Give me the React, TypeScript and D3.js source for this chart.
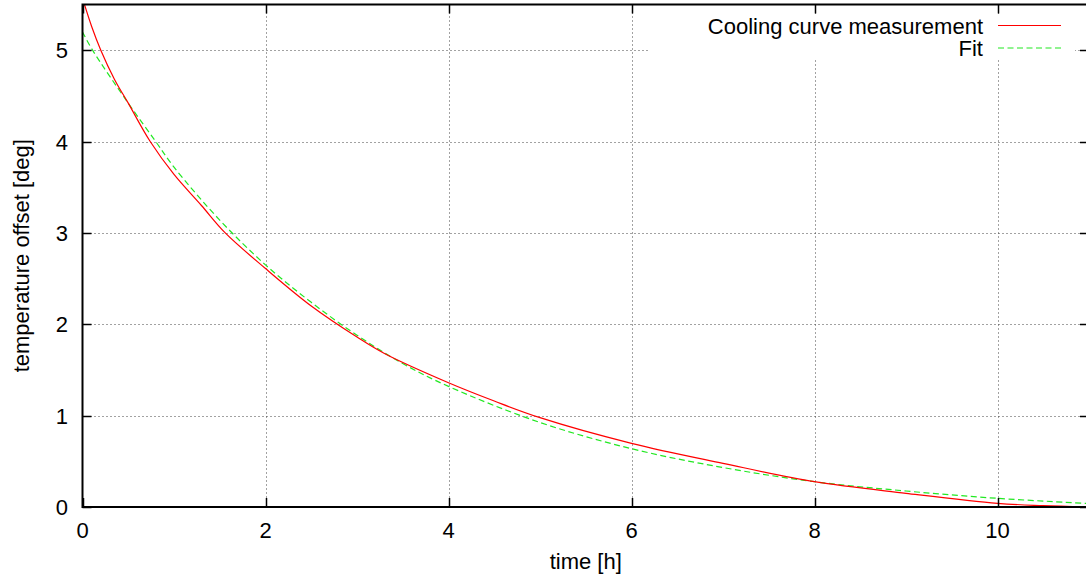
import React, { useEffect, useRef } from "react";
import * as d3 from "d3";

// cooling curve
const measTime = [0, 0.1, 0.2, 0.35, 0.5, 0.74, 1.0, 1.3, 1.56, 2.0, 2.5, 3.0, 3.3, 4.0, 4.5, 5.0, 6.0, 7.0, 8.0, 9.0, 10.0, 10.5, 11.0];
const measTemp = [5.57, 5.26, 5.0, 4.68, 4.42, 4.0, 3.64, 3.3, 3.0, 2.61, 2.2, 1.86, 1.68, 1.36, 1.16, 0.978, 0.697, 0.478, 0.277, 0.15, 0.04, 0.015, 0.0];

const fitTime = [0, 0.11, 0.5, 0.8, 1.0, 1.5, 2.0, 2.5, 3.0, 3.5, 4.0, 5.0, 6.0, 7.0, 8.0, 9.0, 10.0, 11.0];
const fitTemp = [5.2, 5.0, 4.42, 4.0, 3.72, 3.14, 2.65, 2.24, 1.88, 1.57, 1.32, 0.925, 0.638, 0.432, 0.277, 0.175, 0.095, 0.038];

const xTicks = [0, 2, 4, 6, 8, 10];
const yTicks = [0, 1, 2, 3, 4, 5];
const legendLabels = ["Cooling curve measurement", "Fit"];

const W = 1086;
const H = 581;
const FONT = "'Liberation Sans', Arial, sans-serif";

const App = () => {
  const ref = useRef<SVGSVGElement>(null);

  useEffect(() => {
    const svg = d3.select(ref.current);
    svg.selectAll("*").remove();

    const left = 82.5;
    const right = 1089;
    const top = 4.5;
    const bottom = 507;

    const x = d3.scaleLinear().domain([0, 11]).range([left, right]);
    const y = d3.scaleLinear().domain([0, 5.5]).range([bottom, top]);

    // grid
    const grid = svg.append("g").attr("stroke", "#444").attr("stroke-width", 1).attr("stroke-dasharray", "1,3");
    grid
      .selectAll(".gx")
      .data(xTicks.filter((d) => d > 0))
      .enter()
      .append("line")
      .attr("x1", (d) => Math.round(x(d)) + 0.5)
      .attr("x2", (d) => Math.round(x(d)) + 0.5)
      .attr("y1", top)
      .attr("y2", bottom);
    grid
      .selectAll(".gy")
      .data(yTicks.filter((d) => d > 0))
      .enter()
      .append("line")
      .attr("y1", (d) => Math.round(y(d)) + 0.5)
      .attr("y2", (d) => Math.round(y(d)) + 0.5)
      .attr("x1", left)
      .attr("x2", right);

    // key area hides the grid
    svg.append("rect").attr("x", 650).attr("y", 14).attr("width", 425).attr("height", 44).attr("fill", "#fff");

    // curves
    svg.append("clipPath").attr("id", "plotclip").append("rect")
      .attr("x", left).attr("y", top).attr("width", right - left).attr("height", bottom - top);

    const line = d3
      .line<[number, number]>()
      .x((d) => x(d[0]))
      .y((d) => y(d[1]))
      .curve(d3.curveCatmullRom.alpha(0.5));

    const fitPts = fitTime.map((t, i) => [t, fitTemp[i]] as [number, number]);
    const measPts = measTime.map((t, i) => [t, measTemp[i]] as [number, number]);

    svg.append("path")
      .attr("clip-path", "url(#plotclip)")
      .attr("d", line(fitPts))
      .attr("fill", "none")
      .attr("stroke", "#22e822")
      .attr("stroke-width", 1.2)
      .attr("stroke-dasharray", "6,3.5");

    svg.append("path")
      .attr("clip-path", "url(#plotclip)")
      .attr("d", line(measPts))
      .attr("fill", "none")
      .attr("stroke", "#ff0000")
      .attr("stroke-width", 1.2);

    // frame
    svg.append("rect")
      .attr("x", left).attr("y", top).attr("width", right - left).attr("height", bottom - top)
      .attr("fill", "none").attr("stroke", "#000").attr("stroke-width", 2);

    // ticks, mirrored on all sides
    const tl = 9;
    const ticks = svg.append("g").attr("stroke", "#000").attr("stroke-width", 1.5);
    xTicks.forEach((d) => {
      const px = Math.round(x(d)) + 0.5;
      ticks.append("line").attr("x1", px).attr("x2", px).attr("y1", bottom).attr("y2", bottom - tl);
      ticks.append("line").attr("x1", px).attr("x2", px).attr("y1", top).attr("y2", top + tl);
    });
    yTicks.forEach((d) => {
      const py = Math.round(y(d)) + 0.5;
      ticks.append("line").attr("x1", left).attr("x2", left + tl).attr("y1", py).attr("y2", py);
      ticks.append("line").attr("x1", right).attr("x2", right - tl).attr("y1", py).attr("y2", py);
    });

    // tick labels
    const fs = 22;
    svg.selectAll(".xl")
      .data(xTicks)
      .enter()
      .append("text")
      .attr("x", (d) => x(d))
      .attr("y", 538)
      .attr("text-anchor", "middle")
      .style("font-family", FONT)
      .style("font-size", fs + "px")
      .text((d) => d);
    svg.selectAll(".yl")
      .data(yTicks)
      .enter()
      .append("text")
      .attr("x", 68)
      .attr("y", (d) => y(d) + 8)
      .attr("text-anchor", "end")
      .style("font-family", FONT)
      .style("font-size", fs + "px")
      .text((d) => d);

    // axis titles
    svg.append("text")
      .attr("x", (left + right) / 2)
      .attr("y", 569)
      .attr("text-anchor", "middle")
      .style("font-family", FONT)
      .style("font-size", fs + "px")
      .text("time [h]");
    svg.append("text")
      .attr("transform", `translate(29,${(top + bottom) / 2}) rotate(-90)`)
      .attr("text-anchor", "middle")
      .style("font-family", FONT)
      .style("font-size", fs + "px")
      .text("temperature offset [deg]");

    // key
    const key = svg.append("g");
    const keyColors = ["#ff0000", "#22e822"];
    legendLabels.forEach((lab, i) => {
      const ly = 25 + i * 22.5;
      key.append("text")
        .attr("x", 983)
        .attr("y", ly + 8.5)
        .attr("text-anchor", "end")
        .style("font-family", FONT)
        .style("font-size", fs + "px")
        .text(lab);
      key.append("line")
        .attr("x1", 998).attr("x2", 1061)
        .attr("y1", ly + 0.5).attr("y2", ly + 0.5)
        .attr("stroke", keyColors[i])
        .attr("stroke-width", 1.2)
        .attr("stroke-dasharray", i === 1 ? "6,3.5" : null);
    });
  }, []);

  return (
    <svg
      ref={ref}
      width={W}
      height={H}
      style={{ position: "absolute", left: 0, top: 0, background: "#fff" }}
    />
  );
};

export default App;
